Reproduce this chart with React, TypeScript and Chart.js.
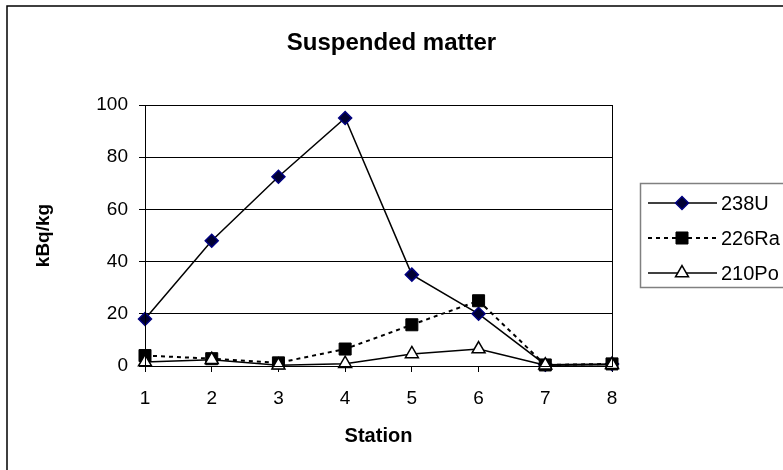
import React, { useEffect, useRef } from 'react';
import { Chart, registerables } from 'chart.js';
import { drawPoint } from 'chart.js/helpers';

Chart.register(...registerables);

const chartTitle = 'Suspended matter';
const xTitle = 'Station';
const yTitle = 'kBq/kg';
const stations = ['1', '2', '3', '4', '5', '6', '7', '8'];
const yTicks = [0, 20, 40, 60, 80, 100];
const seriesNames = ['238U', '226Ra', '210Po'];
const u238 = [18, 48, 72.5, 95, 35, 20, 0.5, 0.8];
const ra226 = [4, 2.8, 1.2, 6.5, 15.8, 25, 0.4, 0.8];
const po210 = [1.5, 2.4, 0.3, 0.9, 4.6, 6.5, 0.3, 0.5];

const FONT = "'Liberation Sans', Arial, sans-serif";

const styles = [
  { line: '#000', dash: [] as number[], lw: 1.5, pointStyle: 'rectRot', radius: 6.5, fill: '#000033', stroke: '#000080', pbw: 1.5 },
  { line: '#000', dash: [4, 4], lw: 2, pointStyle: 'rect', radius: 8.5, fill: '#000000', stroke: '#000000', pbw: 1 },
  { line: '#000', dash: [] as number[], lw: 1.5, pointStyle: 'triangle', radius: 7.5, fill: '#ffffff', stroke: '#000000', pbw: 1.5 },
];

const decorPlugin = {
  id: 'decor',
  afterDraw(chart: any) {
    const ctx = chart.ctx as CanvasRenderingContext2D;
    const ca = chart.chartArea;
    ctx.save();
    // outer frame
    ctx.strokeStyle = '#000';
    ctx.lineWidth = 1.5;
    ctx.strokeRect(7, 6, 820, 520);
    // plot area border
    ctx.lineWidth = 1;
    ctx.strokeRect(Math.round(ca.left) + 0.5, Math.round(ca.top) + 0.5, Math.round(ca.right - ca.left), Math.round(ca.bottom - ca.top));
    // title
    ctx.fillStyle = '#000';
    ctx.textAlign = 'center';
    ctx.textBaseline = 'middle';
    ctx.font = `bold 24px ${FONT}`;
    ctx.fillText(chartTitle, 391.5, 43);
    // x title
    ctx.font = `bold 20px ${FONT}`;
    ctx.fillText(xTitle, (ca.left + ca.right) / 2, 436);
    // y title
    ctx.save();
    ctx.translate(44, (ca.top + ca.bottom) / 2);
    ctx.rotate(-Math.PI / 2);
    ctx.font = `bold 19px ${FONT}`;
    ctx.fillText(yTitle, 0, 0);
    ctx.restore();
    // legend
    ctx.strokeStyle = '#808080';
    ctx.lineWidth = 1.5;
    ctx.strokeRect(640.5, 183.5, 200, 104);
    seriesNames.forEach((name, i) => {
      const s = styles[i];
      const y = 203 + i * 35;
      ctx.beginPath();
      ctx.setLineDash(s.dash);
      ctx.lineWidth = s.lw;
      ctx.strokeStyle = s.line;
      ctx.moveTo(648, y);
      ctx.lineTo(717, y);
      ctx.stroke();
      ctx.setLineDash([]);
      ctx.fillStyle = s.fill;
      ctx.strokeStyle = s.stroke;
      ctx.lineWidth = s.pbw;
      drawPoint(ctx, { pointStyle: s.pointStyle, radius: s.radius, borderWidth: s.pbw, rotation: 0 } as any, 682, y);
      ctx.fillStyle = '#000';
      ctx.font = `20px ${FONT}`;
      ctx.textAlign = 'left';
      ctx.textBaseline = 'middle';
      ctx.fillText(name, 721, y + 1);
    });
    ctx.restore();
  },
};

export default function App() {
  const ref = useRef<HTMLCanvasElement | null>(null);
  useEffect(() => {
    if (!ref.current) return;
    const values = [u238, ra226, po210];
    const chart = new Chart(ref.current, {
      type: 'line',
      data: {
        labels: stations,
        datasets: seriesNames.map((name, i) => ({
          label: name,
          data: values[i],
          borderColor: styles[i].line,
          borderWidth: styles[i].lw,
          borderDash: styles[i].dash,
          pointStyle: styles[i].pointStyle as any,
          pointRadius: styles[i].radius,
          pointBackgroundColor: styles[i].fill,
          pointBorderColor: styles[i].stroke,
          pointBorderWidth: styles[i].pbw,
          tension: 0,
          fill: false,
          clip: false as any,
          order: 2 - i,
        })),
      },
      options: {
        responsive: false,
        animation: false,
        devicePixelRatio: 1,
        layout: { padding: { top: 105, right: 171, left: 0, bottom: 0 } },
        plugins: { legend: { display: false }, title: { display: false }, tooltip: { enabled: false } },
        scales: {
          x: {
            type: 'category',
            offset: false,
            ticks: { font: { family: FONT, size: 19 }, color: '#000', padding: 15, autoSkip: false, maxRotation: 0 },
            grid: { drawOnChartArea: false, color: '#000', tickLength: 6, offset: false },
            border: { color: '#000', width: 1 },
            afterFit: (s: any) => { s.height = 104; },
          },
          y: {
            min: 0,
            max: 100,
            afterBuildTicks: (s: any) => { s.ticks = yTicks.map((v) => ({ value: v })); },
            ticks: { font: { family: FONT, size: 19 }, color: '#000', padding: 11 },
            grid: { color: '#000', lineWidth: 1, tickLength: 6 },
            border: { color: '#000', width: 1 },
            afterFit: (s: any) => { s.width = 145; },
          },
        },
      },
      plugins: [decorPlugin],
    });
    return () => chart.destroy();
  }, []);
  return (
    <div style={{ position: 'absolute', left: 0, top: 0, width: 783, height: 470, background: '#fff' }}>
      <canvas ref={ref} width={783} height={470} style={{ display: 'block' }} />
    </div>
  );
}
